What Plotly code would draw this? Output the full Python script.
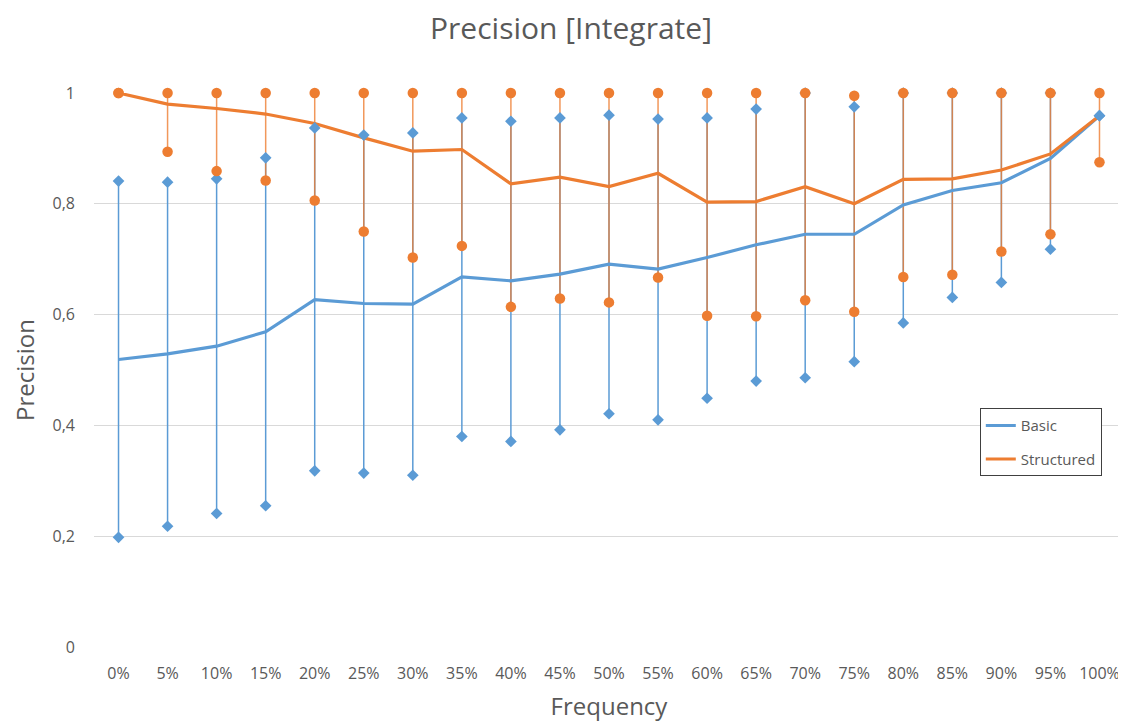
import plotly.graph_objects as go

categories = ["0%", "5%", "10%", "15%", "20%", "25%", "30%", "35%", "40%", "45%", "50%",
              "55%", "60%", "65%", "70%", "75%", "80%", "85%", "90%", "95%", "100%"]

basic_mean = [0.519, 0.529, 0.543, 0.569, 0.627, 0.620, 0.619, 0.668, 0.661, 0.673, 0.691,
              0.682, 0.703, 0.726, 0.745, 0.745, 0.798, 0.824, 0.838, 0.882, 0.959]
basic_min = [0.198, 0.218, 0.241, 0.255, 0.318, 0.314, 0.310, 0.380, 0.371, 0.392, 0.421,
             0.410, 0.449, 0.480, 0.486, 0.515, 0.585, 0.631, 0.658, 0.718, 0.959]
basic_max = [0.841, 0.839, 0.845, 0.883, 0.937, 0.924, 0.928, 0.955, 0.949, 0.955, 0.960,
             0.953, 0.955, 0.971, 1.0, 0.975, 1.0, 1.0, 1.0, 1.0, 0.959]

struct_mean = [1.0, 0.980, 0.972, 0.962, 0.945, 0.919, 0.895, 0.898, 0.836, 0.848, 0.831,
               0.855, 0.803, 0.804, 0.831, 0.800, 0.844, 0.845, 0.861, 0.890, 0.959]
struct_min = [1.0, 0.894, 0.859, 0.842, 0.806, 0.750, 0.703, 0.724, 0.614, 0.629, 0.622,
              0.667, 0.598, 0.597, 0.626, 0.605, 0.668, 0.672, 0.714, 0.745, 0.875]
struct_max = [1.0, 1.0, 1.0, 1.0, 1.0, 1.0, 1.0, 1.0, 1.0, 1.0, 1.0,
              1.0, 1.0, 1.0, 1.0, 0.995, 1.0, 1.0, 1.0, 1.0, 1.0]

BLUE = "#5B9BD5"
ORANGE = "#ED7D31"
GREY = "#595959"
FONT = "Open Sans"

fig = go.Figure()

# vertical range lines (error bars) for each series
fig.add_trace(go.Scatter(
    x=categories, y=basic_mean, mode="markers", cliponaxis=False,
    marker=dict(size=1, opacity=0, color=BLUE), showlegend=False, hoverinfo="skip",
    error_y=dict(type="data", symmetric=False,
                 array=[mx - m for mx, m in zip(basic_max, basic_mean)],
                 arrayminus=[m - mn for m, mn in zip(basic_mean, basic_min)],
                 width=0, thickness=1.5, color=BLUE)))
fig.add_trace(go.Scatter(
    x=categories, y=struct_mean, mode="markers", cliponaxis=False,
    marker=dict(size=1, opacity=0, color=ORANGE), showlegend=False, hoverinfo="skip",
    error_y=dict(type="data", symmetric=False,
                 array=[mx - m for mx, m in zip(struct_max, struct_mean)],
                 arrayminus=[m - mn for m, mn in zip(struct_mean, struct_min)],
                 width=0, thickness=1.5, color="rgba(237,125,49,0.8)")))

# mean lines
fig.add_trace(go.Scatter(x=categories, y=basic_mean, mode="lines", name="Basic",
                         legendgroup="basic", cliponaxis=False,
                         line=dict(color=BLUE, width=3.2)))
fig.add_trace(go.Scatter(x=categories, y=struct_mean, mode="lines", name="Structured",
                         legendgroup="structured", cliponaxis=False,
                         line=dict(color=ORANGE, width=3.2)))

# min / max markers
fig.add_trace(go.Scatter(x=categories, y=basic_min, mode="markers", showlegend=False,
                         cliponaxis=False,
                         marker=dict(symbol="diamond", size=9, color=BLUE)))
fig.add_trace(go.Scatter(x=categories, y=basic_max, mode="markers", showlegend=False,
                         cliponaxis=False,
                         marker=dict(symbol="diamond", size=9, color=BLUE)))
fig.add_trace(go.Scatter(x=categories, y=struct_min, mode="markers", showlegend=False,
                         cliponaxis=False,
                         marker=dict(symbol="circle", size=10.5, color=ORANGE)))
fig.add_trace(go.Scatter(x=categories, y=struct_max, mode="markers", showlegend=False,
                         cliponaxis=False,
                         marker=dict(symbol="circle", size=10.5, color=ORANGE)))

fig.update_layout(
    width=1126, height=722,
    paper_bgcolor="white", plot_bgcolor="white",
    margin=dict(l=85.5, r=9.5, t=85, b=83),
    title=dict(text="Precision [Integrate]", x=0.5, xanchor="center", y=0.972, yanchor="middle",
               font=dict(family=FONT, size=30, color=GREY)),
    font=dict(family=FONT, color=GREY),
    legend=dict(x=0.86, y=0.431, xanchor="left", yanchor="top",
                bgcolor="white", bordercolor="#404040", borderwidth=1,
                font=dict(family=FONT, size=15, color=GREY),
                itemwidth=30, tracegroupgap=11),
    showlegend=True,
)

fig.update_xaxes(
    type="category", range=[-0.5, 20.5],
    showgrid=False, showline=False, zeroline=False, ticks="",
    tickfont=dict(family=FONT, size=16, color=GREY), ticklabelstandoff=15,
    title=dict(text="Frequency", font=dict(family=FONT, size=24, color=GREY), standoff=15),
)
fig.update_yaxes(
    range=[0, 1.0], tickvals=[0, 0.2, 0.4, 0.6, 0.8, 1.0],
    ticktext=["0", "0,2", "0,4", "0,6", "0,8", "1"],
    showgrid=True, gridcolor="#D9D9D9", gridwidth=1, zeroline=False, showline=False,
    ticks="", tickfont=dict(family=FONT, size=16, color=GREY), ticklabelstandoff=18,
    title=dict(text="Precision", font=dict(family=FONT, size=24, color=GREY), standoff=16),
)

fig.write_html("out.html")
